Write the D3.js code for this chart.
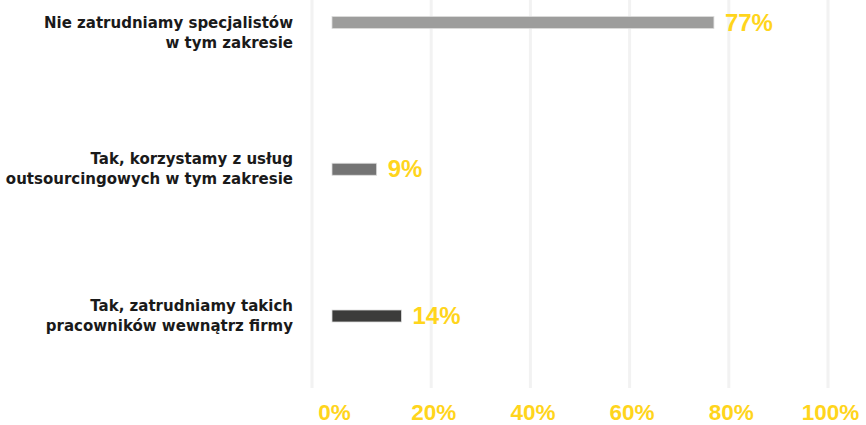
<!DOCTYPE html>
<html>
<head>
<meta charset="utf-8">
<script src="https://cdn.jsdelivr.net/npm/d3@7"></script>
<style>
  html, body { margin: 0; padding: 0; background: #ffffff; }
  svg { display: block; }
</style>
</head>
<body>
<svg id="chart" width="866" height="425"></svg>
<script>
// Survey answers, top to bottom
const categories = [
  ["Nie zatrudniamy specjalistów", "w tym zakresie"],
  ["Tak, korzystamy z usług", "outsourcingowych w tym zakresie"],
  ["Tak, zatrudniamy takich", "pracowników wewnątrz firmy"]
];
const shares = [77, 9, 14];
const barColors = ["#9d9d9c", "#747474", "#3c3c3b"];
const tickValues = [0, 20, 40, 60, 80, 100];

const svg = d3.select("#chart");
const yellow = "#ffd51c";
const font = "'Liberation Sans', Arial, sans-serif";
const labelFont = "'DejaVu Sans', Verdana, sans-serif";

const keys = categories.map((c, i) => i);
const x = d3.scaleLinear().domain([0, 100]).range([332, 828]);
const y = d3.scalePoint().domain(keys).range([22.5, 316]);
const gridBottom = 388;

// vertical gridlines (the zero line sits a little left of the bars)
svg.append("g")
  .selectAll("line")
  .data(tickValues)
  .join("line")
  .attr("x1", d => d === 0 ? x(d) - 20 : x(d))
  .attr("x2", d => d === 0 ? x(d) - 20 : x(d))
  .attr("y1", 0)
  .attr("y2", gridBottom)
  .attr("stroke", "#f2f2f2")
  .attr("stroke-width", 3);

// bottom axis labels
const axis = d3.axisBottom(x)
  .tickValues(tickValues)
  .tickFormat(d => d + "%")
  .tickSize(0)
  .tickPadding(0);
const ax = svg.append("g")
  .attr("transform", `translate(0, 404)`)
  .call(axis);
ax.select(".domain").remove();
ax.selectAll("text")
  .attr("dy", "0.72em")
  .attr("dx", 2)
  .attr("fill", yellow)
  .style("font-family", font)
  .style("font-weight", "bold")
  .style("font-size", "22.5px");

// bars
const barH = 12;
svg.append("g")
  .selectAll("rect")
  .data(keys)
  .join("rect")
  .attr("x", x(0))
  .attr("y", i => y(i) - barH / 2)
  .attr("width", i => x(shares[i]) - x(0))
  .attr("height", barH)
  .attr("fill", i => barColors[i])
  .attr("stroke", "#dcdcdc")
  .attr("stroke-width", 0.8);

// value labels
svg.append("g")
  .selectAll("text")
  .data(keys)
  .join("text")
  .attr("x", i => x(shares[i]) + 11)
  .attr("y", i => y(i) + 8)
  .attr("fill", yellow)
  .style("font-family", font)
  .style("font-weight", "bold")
  .style("font-size", "24px")
  .text(i => shares[i] + "%");

// category labels, right aligned, two lines
const lab = svg.append("g")
  .selectAll("text")
  .data(keys)
  .join("text")
  .attr("text-anchor", "end")
  .attr("fill", "#1a1a1a")
  .style("font-family", labelFont)
  .style("font-weight", "bold")
  .style("font-size", "15px");
lab.each(function(i) {
  const t = d3.select(this);
  const first = Math.max(y(i) - 5, 28);
  categories[i].forEach((line, k) => {
    t.append("tspan")
      .attr("x", 293)
      .attr("y", first + k * 20)
      .text(line);
  });
});
</script>
</body>
</html>
